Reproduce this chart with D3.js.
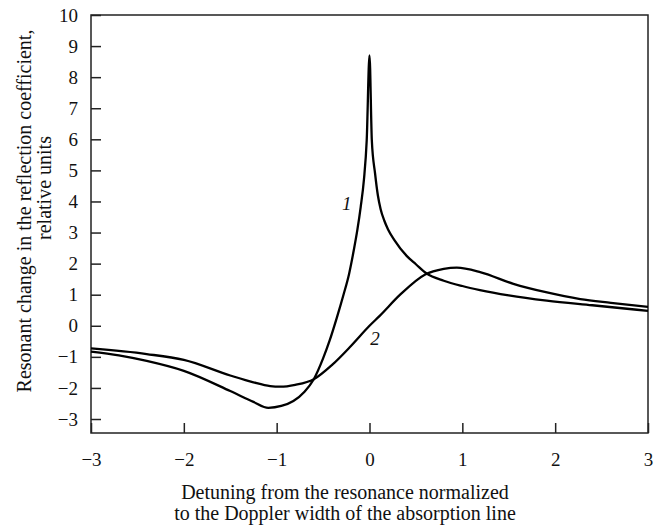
<!DOCTYPE html>
<html>
<head>
<meta charset="utf-8">
<script src="https://cdn.jsdelivr.net/npm/d3@7"></script>
<style>
  body { margin: 0; background: #fff; }
  text { font-family: "Liberation Serif", "Times New Roman", serif; fill: #111; }
</style>
</head>
<body>
<div id="chart"></div>
<script>
// data
const xTicks = [-3, -2, -1, 0, 1, 2, 3];
const yTicks = [-3, -2, -1, 0, 1, 2, 3, 4, 5, 6, 7, 8, 9, 10];

// curve 1 (sharp peak at zero)
const x1 = [-3, -2.7, -2.4, -2.0, -1.5, -1.25, -1.09, -0.95, -0.82, -0.7, -0.6, -0.5, -0.43, -0.35, -0.28,
            -0.22, -0.17, -0.13, -0.095, -0.06, -0.03, 0, 0.025, 0.06, 0.09, 0.12, 0.16, 0.2, 0.27, 0.4, 0.5,
            0.616, 0.8, 1.0, 1.19, 1.5, 1.91, 2.4, 3];
const y1 = [-0.83, -0.95, -1.13, -1.45, -2.1, -2.45, -2.64, -2.58, -2.42, -2.12, -1.72, -1.05, -0.48, 0.28, 1.0,
            1.67, 2.42, 3.1, 3.82, 4.7, 5.97, 8.7, 5.97, 4.9, 4.2, 3.75, 3.38, 3.1, 2.75, 2.25, 1.98,
            1.68, 1.45, 1.28, 1.15, 0.98, 0.81, 0.66, 0.48];

// curve 2 (dispersion-like)
const x2 = [-3, -2.4, -2.0, -1.5, -1.25, -1.07, -0.96, -0.8, -0.6, -0.4, -0.2, 0, 0.11, 0.33, 0.6, 0.8,
            0.94, 1.2, 1.55, 1.9, 2.27, 2.6, 3];
const y2 = [-0.73, -0.91, -1.1, -1.6, -1.82, -1.94, -1.96, -1.9, -1.72, -1.25, -0.65, 0.0, 0.32, 1.0, 1.65, 1.83,
            1.87, 1.72, 1.35, 1.08, 0.86, 0.74, 0.61];

// curve labels
const curveLabels = [
  {text: "1", x: -0.245, y: 3.87},
  {text: "2", x: 0.06, y: -0.48}
];

const margin = {top: 15, right: 17, bottom: 93, left: 91},
  width = 665 - margin.left - margin.right,
  height = 526 - margin.top - margin.bottom;

const svg = d3.select("#chart")
  .append("svg")
    .attr("width", 665)
    .attr("height", 526)
  .append("g")
    .attr("transform", `translate(${margin.left}, ${margin.top})`);

const x = d3.scaleLinear().domain([-3, 3]).range([0, width]);
const y = d3.scaleLinear().domain([-3.45, 10]).range([height, 0]);

const fmt = d => d < 0 ? "\u2212" + Math.abs(d) : String(d);

// frame
svg.append("rect")
  .attr("width", width)
  .attr("height", height)
  .attr("fill", "none")
  .attr("stroke", "#222")
  .attr("stroke-width", 1.5);

// bottom axis, ticks inside
const xAxis = svg.append("g")
  .attr("transform", `translate(0, ${height})`)
  .call(d3.axisBottom(x).tickValues(xTicks).tickSizeInner(-10).tickSizeOuter(0).tickPadding(20).tickFormat(fmt));

// left axis, ticks inside
const yAxis = svg.append("g")
  .call(d3.axisLeft(y).tickValues(yTicks).tickSizeInner(-10).tickSizeOuter(0).tickPadding(13).tickFormat(fmt));

[xAxis, yAxis].forEach(a => {
  a.select(".domain").remove();
  a.selectAll(".tick line").attr("stroke", "#222").attr("stroke-width", 1.5);
  a.selectAll(".tick text")
    .style("font-family", "Liberation Serif, serif")
    .style("font-size", "19px")
    .attr("fill", "#111");
});

// curves
const line = d3.line()
  .x(d => x(d[0]))
  .y(d => y(d[1]))
  .curve(d3.curveMonotoneX);

svg.append("path")
  .datum(d3.zip(x1, y1))
  .attr("fill", "none")
  .attr("stroke", "#000")
  .attr("stroke-width", 2.3)
  .attr("stroke-linejoin", "round")
  .attr("d", line);

svg.append("path")
  .datum(d3.zip(x2, y2))
  .attr("fill", "none")
  .attr("stroke", "#000")
  .attr("stroke-width", 2.3)
  .attr("d", line);

svg.selectAll("curvelabels")
  .data(curveLabels)
  .join("text")
    .attr("x", d => x(d.x))
    .attr("y", d => y(d.y))
    .attr("text-anchor", "middle")
    .attr("dominant-baseline", "middle")
    .style("font-style", "italic")
    .style("font-size", "19px")
    .text(d => d.text);

// x axis title
svg.append("text")
  .attr("text-anchor", "middle")
  .attr("x", 345 - margin.left)
  .attr("y", 499 - margin.top)
  .style("font-size", "20px")
  .text("Detuning from the resonance normalized");

svg.append("text")
  .attr("text-anchor", "middle")
  .attr("x", 345 - margin.left)
  .attr("y", 520 - margin.top)
  .style("font-size", "20px")
  .text("to the Doppler width of the absorption line");

// y axis title
svg.append("text")
  .attr("text-anchor", "middle")
  .attr("transform", `translate(${31 - margin.left}, ${211 - margin.top}) rotate(-90)`)
  .style("font-size", "20px")
  .text("Resonant change in the reflection coefficient,");

svg.append("text")
  .attr("text-anchor", "middle")
  .attr("transform", `translate(${51 - margin.left}, ${188 - margin.top}) rotate(-90)`)
  .style("font-size", "20px")
  .text("relative units");
</script>
</body>
</html>
